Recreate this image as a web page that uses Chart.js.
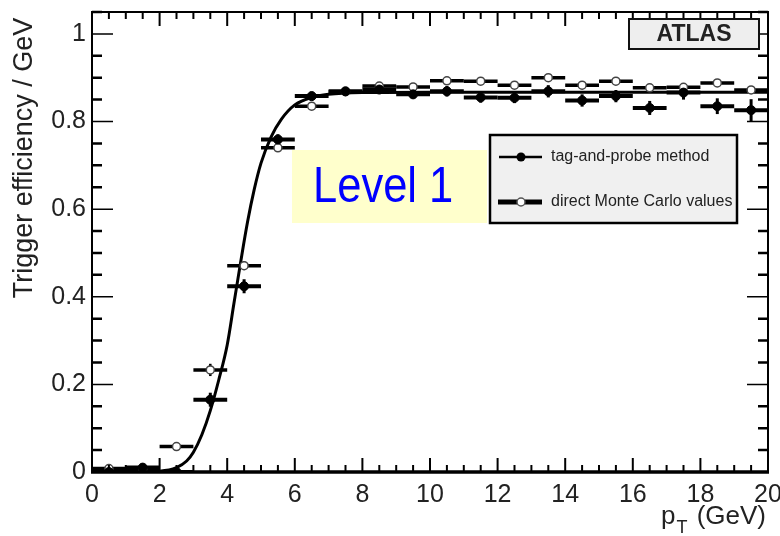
<!DOCTYPE html>
<html><head><meta charset="utf-8">
<script src="https://cdn.jsdelivr.net/npm/chart.js@4.4.1/dist/chart.umd.min.js"></script>
<style>html,body{margin:0;padding:0;background:#fff;}#wrap{width:780px;height:536px;}</style>
</head><body><div id="wrap"><canvas id="c" width="780" height="536"></canvas></div>
<script>
// ---- data ----
const binCenters    = [0.5,1.5,2.5,3.5,4.5,5.5,6.5,7.5,8.5,9.5,10.5,11.5,12.5,13.5,14.5,15.5,16.5,17.5,18.5,19.5];
const binHalfWidth  = 0.5;
const tagProbeEff   = [0.000,0.010,0.000,0.165,0.424,0.759,0.858,0.869,0.873,0.862,0.869,0.855,0.854,0.869,0.848,0.858,0.831,0.866,0.835,0.826];
const tagProbeErr   = [0.004,0.004,0.004,0.016,0.016,0.012,0.010,0.010,0.010,0.010,0.012,0.012,0.012,0.014,0.014,0.014,0.016,0.016,0.018,0.025];
const monteCarloEff = [0.008,0.006,0.058,0.233,0.471,0.740,0.835,0.868,0.881,0.879,0.893,0.892,0.883,0.900,0.883,0.892,0.877,0.878,0.888,0.872];
const monteCarloErr = [0.003,0.003,0.006,0.014,0.010,0.008,0.006,0.005,0.005,0.006,0.006,0.006,0.006,0.008,0.006,0.006,0.006,0.006,0.006,0.006];
const fitX = [0,1,2,2.5,2.8,3.0,3.25,3.5,3.75,4.0,4.2,4.4,4.6,4.8,5.0,5.3,5.6,6.0,6.5,7.0,8.0,10,14,20];
const fitY = [0,0,0.002,0.01,0.025,0.045,0.085,0.14,0.21,0.29,0.385,0.48,0.57,0.645,0.705,0.765,0.805,0.838,0.855,0.862,0.866,0.867,0.867,0.867];
const xTickValues = [0,2,4,6,8,10,12,14,16,18,20];
const xTickLabels = ['0','2','4','6','8','10','12','14','16','18','20'];
const yTickValues = [0,0.2,0.4,0.6,0.8,1];
const yTickLabels = ['0','0.2','0.4','0.6','0.8','1'];
const legendLabels = ['tag-and-probe method','direct Monte Carlo values'];
const yTitle = 'Trigger efficiency / GeV';
const xTitleMain = 'p', xTitleSub = 'T', xTitleUnit = ' (GeV)';
const atlasLabel = 'ATLAS';
const levelLabel = 'Level 1';

const FONT = '"Liberation Sans", Arial, Helvetica, sans-serif';
const pts = (xs, ys) => xs.map((x, i) => ({x, y: ys[i]}));

const decor = {
  id: 'decor',
  beforeDatasetsDraw(chart) {
    const {ctx, chartArea: a, scales: {x, y}} = chart;
    ctx.save();
    ctx.fillStyle = '#ffffcc';
    ctx.fillRect(292, 150, 195, 73);
    ctx.save();
    ctx.fillStyle = '#0000ff';
    ctx.font = '50px ' + FONT;
    ctx.textBaseline = 'alphabetic';
    ctx.translate(313, 202);
    ctx.scale(0.87, 1);
    ctx.fillText(levelLabel, 0, 0);
    ctx.restore();
    ctx.beginPath(); ctx.rect(a.left, a.top, a.right - a.left, a.bottom - a.top); ctx.clip();
    const bars = (vals, errs, hw, vw, col) => {
      ctx.strokeStyle = col;
      binCenters.forEach((c, i) => {
        const py = y.getPixelForValue(vals[i]);
        ctx.lineWidth = hw;
        ctx.beginPath();
        ctx.moveTo(x.getPixelForValue(c - binHalfWidth), py);
        ctx.lineTo(x.getPixelForValue(c + binHalfWidth), py);
        ctx.stroke();
        ctx.lineWidth = vw;
        const px = x.getPixelForValue(c);
        ctx.beginPath();
        ctx.moveTo(px, y.getPixelForValue(vals[i] - errs[i]));
        ctx.lineTo(px, y.getPixelForValue(vals[i] + errs[i]));
        ctx.stroke();
      });
    };
    bars(monteCarloEff, monteCarloErr, 3.5, 2.5, '#000');
    bars(tagProbeEff, tagProbeErr, 4, 3, '#000');
    ctx.restore();
  },
  afterDraw(chart) {
    const {ctx, chartArea: a, scales: {x, y}} = chart;
    ctx.save();
    ctx.strokeStyle = '#000';
    for (let k = 0; k * 0.05 <= 1.051; k++) {
      const v = k * 0.05, py = y.getPixelForValue(v), major = k % 4 === 0;
      const len = major ? 21 : 10;
      ctx.lineWidth = major ? 1.5 : 2.5;
      ctx.beginPath();
      ctx.moveTo(a.left, py); ctx.lineTo(a.left + len, py);
      ctx.moveTo(a.right, py); ctx.lineTo(a.right - len, py);
      ctx.stroke();
    }
    for (let k = 0; k <= 40; k++) {
      const v = k * 0.5, px = x.getPixelForValue(v), major = k % 4 === 0;
      const len = major ? 14 : 7;
      ctx.lineWidth = 2;
      ctx.beginPath();
      ctx.moveTo(px, a.bottom); ctx.lineTo(px, a.bottom - len);
      ctx.moveTo(px, a.top); ctx.lineTo(px, a.top + len);
      ctx.stroke();
    }
    ctx.lineWidth = 2;
    ctx.strokeRect(a.left, a.top, a.right - a.left, a.bottom - a.top);
    ctx.lineWidth = 3.5;
    ctx.beginPath(); ctx.moveTo(a.left - 1, a.bottom); ctx.lineTo(a.right + 1, a.bottom); ctx.stroke();

    ctx.fillStyle = '#eeeeee';
    ctx.fillRect(629, 19, 130, 30);
    ctx.lineWidth = 2; ctx.strokeStyle = '#111';
    ctx.strokeRect(629, 19, 130, 30);
    ctx.fillStyle = '#222';
    ctx.font = 'bold 23px ' + FONT;
    ctx.textAlign = 'center'; ctx.textBaseline = 'middle';
    ctx.fillText(atlasLabel, 694, 35);

    ctx.fillStyle = '#f0f0f0';
    ctx.fillRect(490, 135, 247, 88);
    ctx.lineWidth = 2.5; ctx.strokeStyle = '#000';
    ctx.strokeRect(490, 135, 247, 88);
    ctx.lineWidth = 2.5;
    ctx.beginPath(); ctx.moveTo(499, 157); ctx.lineTo(542, 157); ctx.stroke();
    ctx.fillStyle = '#000';
    ctx.beginPath(); ctx.arc(521, 157, 4.5, 0, Math.PI * 2); ctx.fill();
    ctx.lineWidth = 5;
    ctx.beginPath(); ctx.moveTo(498, 202); ctx.lineTo(542, 202); ctx.stroke();
    ctx.fillStyle = '#fff'; ctx.strokeStyle = '#555'; ctx.lineWidth = 1.5;
    ctx.beginPath(); ctx.arc(521, 202, 4, 0, Math.PI * 2); ctx.fill(); ctx.stroke();
    ctx.fillStyle = '#222';
    ctx.font = '16px ' + FONT;
    ctx.textAlign = 'left'; ctx.textBaseline = 'middle';
    ctx.fillText(legendLabels[0], 551, 157);
    ctx.fillText(legendLabels[1], 551, 202);

    ctx.fillStyle = '#222';
    ctx.textBaseline = 'alphabetic'; ctx.textAlign = 'left';
    ctx.font = '26px ' + FONT;
    const wP = ctx.measureText(xTitleMain).width;
    const wU = ctx.measureText(xTitleUnit).width;
    ctx.font = '18px ' + FONT;
    const wT = ctx.measureText(xTitleSub).width + 3;
    let sx = 766 - (wP + wT + wU);
    ctx.font = '26px ' + FONT;
    ctx.fillText(xTitleMain, sx, 524);
    ctx.font = '18px ' + FONT;
    ctx.fillText(xTitleSub, sx + wP + 1, 533);
    ctx.font = '26px ' + FONT;
    ctx.fillText(xTitleUnit, sx + wP + wT, 524);

    ctx.save();
    ctx.translate(32, 158);
    ctx.rotate(-Math.PI / 2);
    ctx.font = '27px ' + FONT;
    ctx.textAlign = 'center'; ctx.textBaseline = 'alphabetic';
    ctx.fillText(yTitle, 0, 0);
    ctx.restore();
    ctx.restore();
  }
};

new Chart(document.getElementById('c'), {
  type: 'scatter',
  data: {
    datasets: [
      {label: 'fit', data: pts(fitX, fitY), showLine: true, borderColor: '#000', borderWidth: 3,
       pointRadius: 0, cubicInterpolationMode: 'monotone', order: 3},
      {label: legendLabels[1], data: pts(binCenters, monteCarloEff), pointRadius: 4,
       pointBackgroundColor: '#fff', pointBorderColor: '#444', pointBorderWidth: 1.5, order: 2},
      {label: legendLabels[0], data: pts(binCenters, tagProbeEff), pointRadius: 4.5,
       pointBackgroundColor: '#000', pointBorderColor: '#000', pointBorderWidth: 1, order: 1}
    ]
  },
  options: {
    responsive: false, animation: false, devicePixelRatio: 1,
    layout: {padding: {left: 0, right: 12, top: 12, bottom: 0}},
    plugins: {legend: {display: false}, tooltip: {enabled: false}},
    scales: {
      x: {type: 'linear', min: 0, max: 20,
          afterFit(s) { s.height = 64; s.paddingLeft = 0; s.paddingRight = 0; },
          afterBuildTicks(s) { s.ticks = xTickValues.map(v => ({value: v})); },
          grid: {display: false, drawTicks: false}, border: {display: false},
          ticks: {font: {size: 25, family: FONT}, color: '#222', padding: 8, maxRotation: 0, autoSkip: false,
                  callback: (v, i) => xTickLabels[i]}},
      y: {type: 'linear', min: 0, max: 1.05,
          afterFit(s) { s.width = 92; s.paddingTop = 0; s.paddingBottom = 0; },
          afterBuildTicks(s) { s.ticks = yTickValues.map(v => ({value: v})); },
          grid: {display: false, drawTicks: false}, border: {display: false},
          ticks: {font: {size: 25, family: FONT}, color: '#222', padding: 6, autoSkip: false,
                  callback: (v, i) => yTickLabels[i]}}
    }
  },
  plugins: [decor]
});
</script>
</body></html>
